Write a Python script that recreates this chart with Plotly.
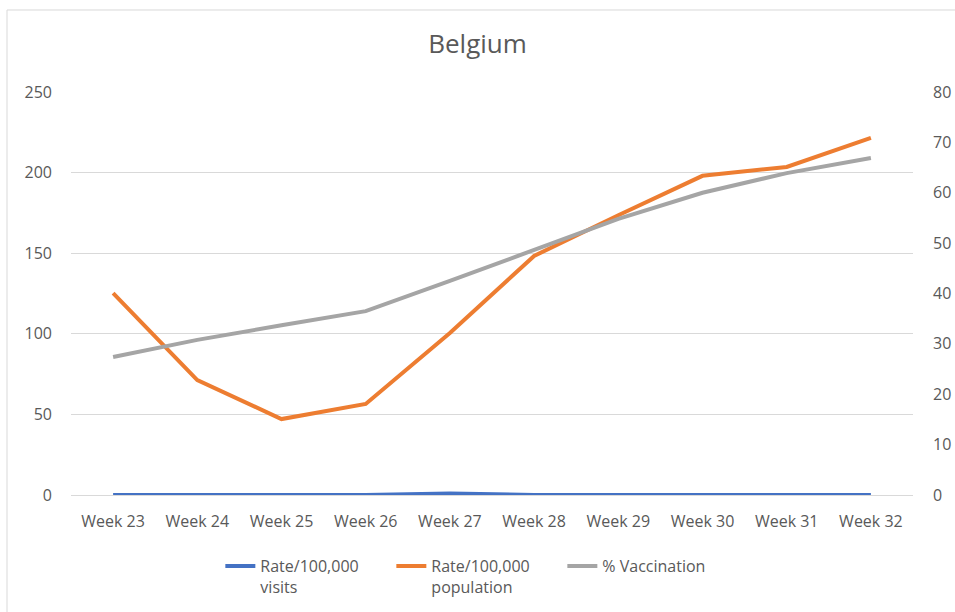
import plotly.graph_objects as go

weeks = ['Week 23', 'Week 24', 'Week 25', 'Week 26', 'Week 27',
         'Week 28', 'Week 29', 'Week 30', 'Week 31', 'Week 32']
rate_visits = [0, 0, 0, 0, 1, 0, 0, 0, 0, 0]
rate_population = [125.3, 71.3, 47.1, 56.5, 100.5, 148.3, 173.5, 198.0, 203.5, 221.5]
pct_vaccination = [27.4, 30.8, 33.7, 36.5, 42.5, 48.6, 54.8, 60.0, 63.9, 66.9]

text_color = '#595959'
font_family = 'Open Sans, Liberation Sans, sans-serif'

fig = go.Figure()

fig.add_trace(go.Scatter(
    x=weeks, y=rate_visits, mode='lines',
    name='Rate/100,000<br>visits',
    line=dict(color='#4472C4', width=4)
))
fig.add_trace(go.Scatter(
    x=weeks, y=rate_population, mode='lines',
    name='Rate/100,000<br>population',
    line=dict(color='#ED7D31', width=4)
))
fig.add_trace(go.Scatter(
    x=weeks, y=pct_vaccination, mode='lines',
    name='% Vaccination', yaxis='y2',
    line=dict(color='#A5A5A5', width=4)
))

# light chart-area border (only top and left edges fall inside the window)
fig.add_shape(type='rect', xref='paper', yref='paper',
              x0=-0.076, x1=1.1, y0=-0.35, y1=1.2035,
              line=dict(color='#D9D9D9', width=1), layer='below')

fig.update_layout(
    width=955, height=612,
    paper_bgcolor='white', plot_bgcolor='white',
    margin=dict(l=71, r=42, t=92, b=117, autoexpand=False),
    font=dict(family=font_family, color=text_color, size=16),
    title=dict(text='Belgium', x=0.5, xanchor='center', y=1 - 44 / 612, yanchor='middle',
               font=dict(size=26, color=text_color)),
    xaxis=dict(range=[-0.5, 9.5], showgrid=False, showline=False, ticks='',
               ticklabelstandoff=15,
               tickfont=dict(size=16, color=text_color)),
    yaxis=dict(range=[0, 250], dtick=50, showgrid=True, gridcolor='#D9D9D9',
               gridwidth=1, zeroline=True, zerolinecolor='#D9D9D9', zerolinewidth=1,
               showline=False, ticks='', ticklabelstandoff=18,
               tickfont=dict(size=16, color=text_color)),
    yaxis2=dict(range=[0, 80], dtick=10, overlaying='y', side='right',
                showgrid=False, zeroline=False, showline=False, ticks='',
                ticklabelstandoff=19,
                tickfont=dict(size=16, color=text_color)),
    legend=dict(orientation='h', x=0.482, xanchor='center', y=-0.134, yanchor='top',
                font=dict(size=16, color=text_color), valign='top',
                entrywidth=126),
    showlegend=True,
)

# drop the default page margin so the 955x612 figure fills the window
fig.write_html('out.html', config={'displayModeBar': False},
               post_script="document.body.style.margin='0';document.body.style.overflow='hidden';")
